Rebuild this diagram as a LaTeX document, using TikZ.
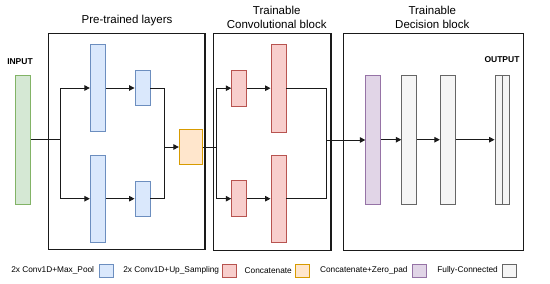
\documentclass[tikz,border=0pt]{standalone}
\usepackage{fontspec}
\setmainfont{Liberation Sans}
\usetikzlibrary{arrows.meta}
\definecolor{bluef}{HTML}{DAE8FC}\definecolor{blued}{HTML}{6C8EBF}
\definecolor{redf}{HTML}{F8CECC}\definecolor{redd}{HTML}{B85450}
\definecolor{orf}{HTML}{FFE6CC}\definecolor{ord}{HTML}{D79B00}
\definecolor{purf}{HTML}{E1D5E7}\definecolor{purd}{HTML}{9673A6}
\definecolor{grf}{HTML}{F5F5F5}\definecolor{grd}{HTML}{666666}
\definecolor{grnf}{HTML}{D5E8D4}\definecolor{grnd}{HTML}{82B366}
\definecolor{linec}{HTML}{1A1A1A}
\begin{document}
\begin{tikzpicture}[x=1pt,y=-1pt,
  blk/.style={draw, line width=0.9pt, inner sep=0pt, minimum width=15pt},
  blue/.style={blk, fill=bluef, draw=blued},
  red/.style={blk, fill=redf, draw=redd},
  orng/.style={blk, fill=orf, draw=ord},
  purp/.style={blk, fill=purf, draw=purd},
  gray/.style={blk, fill=grf, draw=grd},
  grn/.style={blk, fill=grnf, draw=grnd},
  frame/.style={draw=linec, line width=1.1pt, inner sep=0pt},
  conn/.style={draw=linec, line width=1pt},
  arr/.style={conn, -{Triangle[length=5.5pt,width=5.5pt]}},
  ttl/.style={font=\fontsize{11.5}{13.3}\selectfont, align=center, inner sep=0pt},
  lbl/.style={font=\fontsize{8.5}{10}\selectfont\bfseries, inner sep=0pt},
  legt/.style={font=\fontsize{8.3}{10}\selectfont, inner sep=0pt, anchor=east},
  legs/.style={minimum width=14pt, minimum height=13pt}
]
\useasboundingbox (0,0) rectangle (550,284);
% frames
\node[frame, minimum width=156.7pt, minimum height=216pt] (pre) at (126.65,141.5) {};
\node[frame, minimum width=117.7pt, minimum height=217pt] (conv) at (272.15,142) {};
\node[frame, minimum width=180pt, minimum height=217pt] (dec) at (433.3,142) {};
\node[ttl] (t1) at (127,21) {Pre-trained layers};
\node[ttl] (t2) at (276.7,17.5) {Trainable\\Convolutional block};
\node[ttl] (t3) at (432.3,17.5) {Trainable\\Decision block};
% input
\node[lbl] (inl) at (20,62) {INPUT};
\node[grn, minimum height=129pt] (in) at (23,139.5) {};
% pre-trained
\node[blue, minimum height=87.4pt] (b1) at (97.8,88) {};
\node[blue, minimum height=35.4pt] (b2) at (142.5,88) {};
\node[blue, minimum height=87.4pt] (b3) at (97.8,198.7) {};
\node[blue, minimum height=35.4pt] (b4) at (142.5,198.7) {};
\node[orng, minimum width=23pt, minimum height=35.4pt] (cat) at (190.8,147) {};
% conv
\node[red, minimum height=35.7pt] (r1) at (239.2,88.2) {};
\node[red, minimum height=87.7pt] (r2) at (278.5,88.2) {};
\node[red, minimum height=35.7pt] (r3) at (239.2,198.7) {};
\node[red, minimum height=87.3pt] (r4) at (278.5,198.7) {};
% decision
\node[purp, minimum height=128.7pt] (p) at (373.3,139.7) {};
\node[gray, minimum height=128.7pt] (g1) at (409.3,139.7) {};
\node[gray, minimum height=128.7pt] (g2) at (447.8,139.7) {};
\node[gray, minimum width=7.35pt, minimum height=128.7pt] (o1) at (498.7,139.7) {};
\node[gray, minimum width=7.35pt, minimum height=128.7pt] (o2) at (506,139.7) {};
\node[lbl] (outl) at (502,59.5) {OUTPUT};
% connectors
\coordinate (s1) at (60,139.5);
\coordinate (j1) at (164.3,147);
\coordinate (s2) at (216,147);
\coordinate (j2) at (326,140);
\draw[conn] (in.east |- s1) -- (s1);
\draw[arr] (s1) |- (b1.west);
\draw[arr] (s1) |- (b3.west);
\draw[arr] (b1) -- (b2);
\draw[arr] (b3) -- (b4);
\draw[conn] (b2.east) -| (j1);
\draw[conn] (b4.east) -| (j1);
\draw[arr] (j1) -- (cat.west);
\draw[conn] (cat.east) -- (s2);
\draw[arr] (s2) |- (r1.west);
\draw[arr] (s2) |- (r3.west);
\draw[arr] (r1) -- (r2);
\draw[arr] (r3) -- (r4);
\draw[conn] (r2.east) -| (j2);
\draw[conn] (r4.east) -| (j2);
\draw[arr] (j2) -- (p.west |- j2);
\draw[arr] (p) -- (g1);
\draw[arr] (g1) -- (g2);
\draw[arr] (g2) -- (o1);
% legend
\node[legt] (lt1) at (94.3,270.8) {2x Conv1D+Max\_Pool};
\node[blue, legs] (ls1) at (106.3,270.8) {};
\node[legt] (lt2) at (219.3,270.8) {2x Conv1D+Up\_Sampling};
\node[red, legs] (ls2) at (229.7,270.8) {};
\node[legt] (lt3) at (292,270.8) {Concatenate};
\node[orng, legs] (ls3) at (302.3,270.8) {};
\node[legt] (lt4) at (407.7,270.8) {Concatenate+Zero\_pad};
\node[purp, legs] (ls4) at (419.7,270.8) {};
\node[legt] (lt5) at (498,270.8) {Fully-Connected};
\node[gray, legs] (ls5) at (509.7,270.8) {};
\end{tikzpicture}
\end{document}
